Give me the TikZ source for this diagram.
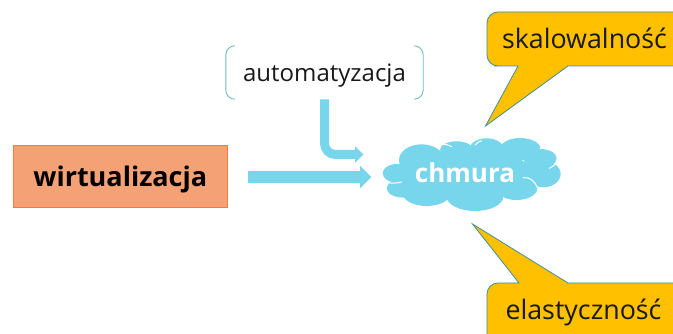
\documentclass[tikz,border=0pt]{standalone}
\usepackage{fontspec}
\setmainfont{Open Sans}
\usetikzlibrary{arrows.meta}
\definecolor{skyfill}{HTML}{78D6EC}
\definecolor{bracketblue}{HTML}{6FB9CF}
\definecolor{orfill}{HTML}{F4A275}
\definecolor{ordraw}{HTML}{F47B3C}
\definecolor{goldfill}{HTML}{FFC000}
\definecolor{calloutdraw}{HTML}{3F8F9F}
\newcommand{\dropped}[2]{\raisebox{-#1}[0pt][0pt]{#2}}
\tikzset{
  x=1pt,y=-1pt,
  label text/.style={font=\fontsize{24}{28}\selectfont,text=black!90,inner sep=0pt},
  call text/.style={font=\fontsize{26.8}{30}\selectfont,text=black!90,inner sep=0pt},
  bold label/.style={font=\fontsize{27}{30}\selectfont\bfseries,inner sep=0pt},
  block/.style={draw=skyfill,color=skyfill},
  callout/.style={fill=goldfill,draw=calloutdraw,line width=0.8pt,line join=miter},
  lobe/.style={fill=skyfill,draw=none},
  crease/.style={draw=white,line width=1pt,line cap=round},
  bracket/.style={draw=bracketblue,line width=0.9pt,rounded corners=9pt},
}
\begin{document}
\begin{tikzpicture}
\useasboundingbox (0,0) rectangle (673,334);
% callouts
\path[callout] (700,12) [rounded corners=11pt] -- (487,12) -- (487,66) -- (505,66) [sharp corners] -- (518,66) -- (485.5,126) -- (568,66) -- (700,66) -- cycle;
\path[callout] (700,283) -- (568,283) -- (472.5,224) -- (519,283) -- (505,283) [rounded corners=11pt] -- (487,283) -- (487,350) [sharp corners] -- (700,350) -- cycle;
\node[call text] (skal) at (584.5,38) {skalowalność};
\node[call text] (elas) at (583.5,312) {elastyczność};
% box
\node[bold label,draw=ordraw,fill=orfill,line width=1pt,minimum width=213.5pt,minimum height=62pt] (wirt) at (120.3,177) {\dropped{10pt}{wirtualizacja}};
% automatyzacja
\node[label text,minimum width=197pt,minimum height=53pt] (auto) at (324.5,72.5) {\dropped{9.5pt}{automatyzacja}};
\draw[bracket] ([xshift=9pt]auto.north west) -- (auto.north west) -- (auto.south west) -- ([xshift=9pt]auto.south west);
\draw[bracket] ([xshift=-9pt]auto.north east) -- (auto.north east) -- (auto.south east) -- ([xshift=-9pt]auto.south east);
% cloud
\begin{scope}[shift={(380,0)},x=0.3333pt,y=-0.3333pt]
\foreach \cx/\cy/\rx/\ry in {50/520/42/28,125/480/68/47,230/450/50/26,320/445/50/30,420/447/62/33,480/475/50/28,490/522/52/40,410/565/62/35,285/590/85/43,140/580/72/38,70/565/50/28,260/520/200/70}
  \fill[lobe] (\cx,\cy) ellipse[x radius=\rx,y radius=\ry];
\draw[crease] (10,545) .. controls (30,552) and (50,550) .. (65,546);
\draw[crease] (430,533) .. controls (450,530) and (465,545) .. (472,562);
\draw[crease] (507,505) .. controls (515,502) and (525,495) .. (530,488);
\draw[crease] (185,432) .. controls (195,432) and (205,435) .. (215,440);
\draw[crease] (285,435) .. controls (290,428) and (298,425) .. (305,422);
\draw[crease] (365,430) .. controls (372,425) and (380,420) .. (385,418);
\draw[crease] (480,447) .. controls (482,445) and (484,443) .. (487,440);
\end{scope}
\node[inner sep=0pt,text=white,font=\fontsize{26}{28}\selectfont\bfseries] (cloud) at (465,173) {chmura};
% arrows
\coordinate (hstart) at (248,177);
\coordinate (hend) at (371.5,177);
\coordinate (bstart) at (324.5,99.3);
\coordinate (bend) at (363.5,154.5);
\draw[block,line width=12pt,-{Triangle[length=11.5pt,width=22pt]}] (hstart) -- (hend);
\draw[block,line width=9pt,rounded corners=11pt,-{Triangle[length=8.5pt,width=16pt]}] (bstart) |- (bend);
\end{tikzpicture}
\end{document}
